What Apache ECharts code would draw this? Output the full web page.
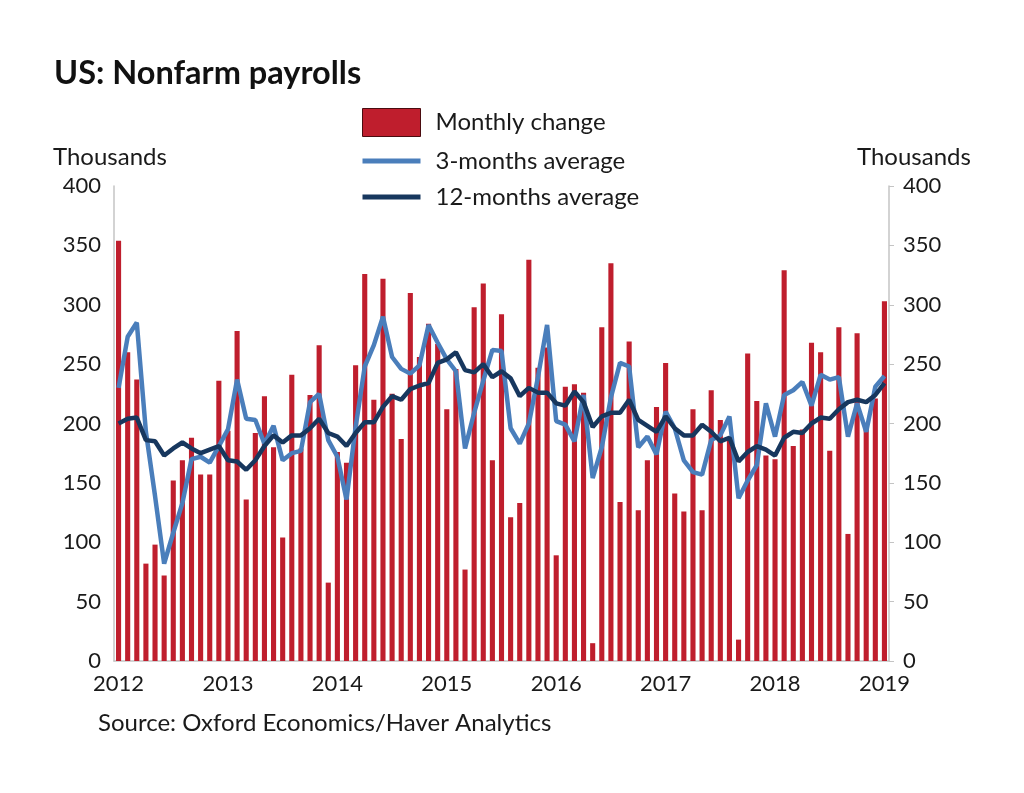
<!DOCTYPE html>
<html>
<head>
<meta charset="utf-8">
<title>US: Nonfarm payrolls</title>
<script src="https://cdn.jsdelivr.net/npm/echarts@6/dist/echarts.min.js"></script>
<style>
  html, body { margin: 0; padding: 0; background: #fff; }
  #main { width: 1024px; height: 793px; }
</style>
</head>
<body>
<div id="main"></div>
<script>
// 2012年1月 - 2019年1月, 千人
var years = ['2012', '2013', '2014', '2015', '2016', '2017', '2018', '2019'];

var monthlyChange = [354, 260, 237, 82, 98, 72, 152, 169, 188, 157, 157, 236,
    194, 278, 136, 192, 223, 180, 104, 241, 179, 224, 266, 66,
    176, 167, 249, 326, 220, 322, 225, 187, 310, 256, 284, 267,
    212, 246, 77, 298, 318, 169, 292, 121, 133, 338, 247, 264,
    89, 231, 233, 226, 15, 281, 335, 134, 269, 127, 169, 214,
    251, 141, 126, 212, 127, 228, 203, 188, 18, 259, 219, 173,
    170, 329, 181, 195, 268, 260, 177, 281, 107, 276, 196, 221, 303];

var avg3m = [230, 273, 285, 193, 139, 82, 108, 133, 170, 172, 167, 181,
    195, 237, 204, 203, 183, 198, 169, 175, 177, 218, 225, 186,
    172, 136, 197, 248, 266, 290, 256, 246, 242, 249, 283, 268,
    254, 244, 179, 209, 236, 262, 261, 196, 183, 200, 239, 283,
    202, 199, 185, 224, 154, 180, 222, 251, 248, 180, 189, 174,
    210, 196, 169, 159, 157, 186, 190, 206, 137, 152, 165, 217,
    189, 224, 228, 235, 215, 241, 237, 239, 189, 217, 193, 231, 240];

var avg12m = [200, 204, 205, 186, 185, 173, 179, 184, 179, 175, 178, 181,
    169, 168, 161, 169, 181, 190, 184, 190, 190, 196, 204, 192,
    189, 181, 192, 201, 201, 214, 223, 220, 229, 232, 234, 251,
    254, 260, 245, 243, 250, 239, 244, 238, 223, 230, 226, 226,
    217, 215, 227, 218, 197, 206, 209, 209, 220, 203, 198, 193,
    206, 196, 190, 190, 199, 193, 185, 188, 168, 176, 181, 178,
    173, 188, 193, 192, 200, 205, 204, 212, 218, 220, 218, 224, 234];

var yTicks = [0, 50, 100, 150, 200, 250, 300, 350, 400];

// 类目: 每月一个, 只在1月显示年份
var months = [];
for (var i = 0; i < monthlyChange.length; i++) {
    months.push(years[Math.floor(i / 12)] + '-' + (i % 12 + 1));
}

var font = 'Lato, "Open Sans", sans-serif';
var textColor = '#1a1a1a';
var axisGray = '#c4c4c4';
var red = '#bf1e2d';
var lightBlue = '#4a7ebb';
var navy = '#17375e';

// 图例里的线条图标 (细长矩形)
var lineIcon = 'path://M0,0h58v5h-58z';

var chart = echarts.init(document.getElementById('main'));

var option = {
    backgroundColor: '#fff',
    animation: false,
    title: {
        text: 'US: Nonfarm payrolls',
        left: 49,
        top: 52,
        textStyle: {
            fontFamily: font,
            fontSize: 32.5,
            fontWeight: 'bold',
            color: '#111'
        }
    },
    legend: {
        orient: 'vertical',
        left: 362,
        top: 108,
        padding: 0,
        itemWidth: 58,
        itemHeight: 28,
        itemGap: 12,
        symbolKeepAspect: true,
        textStyle: {
            fontFamily: font,
            fontSize: 24,
            color: textColor,
            padding: [0, 0, 0, 10]
        },
        data: [
            { name: 'Monthly change', icon: 'rect', itemStyle: { color: red, borderColor: '#4a0c10', borderWidth: 1 } },
            { name: '3-months average', icon: lineIcon, itemStyle: { color: lightBlue } },
            { name: '12-months average', icon: lineIcon, itemStyle: { color: navy } }
        ]
    },
    graphic: [
        { type: 'text', left: 53, top: 145, style: { text: 'Thousands', font: '24px ' + font, fill: textColor } },
        { type: 'text', left: 857, top: 145, style: { text: 'Thousands', font: '24px ' + font, fill: textColor } },
        { type: 'text', left: 98, top: 711, style: { text: 'Source: Oxford Economics/Haver Analytics', font: '24px ' + font, fill: textColor } }
    ],
    grid: {
        left: 114,
        right: 135,
        top: 186,
        bottom: 132
    },
    xAxis: {
        type: 'category',
        data: months,
        boundaryGap: true,
        axisLine: { show: true, lineStyle: { color: axisGray, width: 1.5 } },
        axisTick: { show: false },
        axisLabel: {
            interval: 11,
            margin: 12,
            fontFamily: font,
            fontSize: 22,
            color: textColor,
            formatter: function (v) { return v.split('-')[0]; }
        }
    },
    yAxis: [{
        type: 'value',
        min: yTicks[0],
        max: yTicks[yTicks.length - 1],
        interval: 50,
        position: 'left',
        axisLine: { show: true, lineStyle: { color: axisGray, width: 1.5 } },
        axisTick: { show: false },
        splitLine: { show: false },
        axisLabel: { margin: 13, fontFamily: font, fontSize: 22, color: textColor }
    }, {
        type: 'value',
        min: yTicks[0],
        max: yTicks[yTicks.length - 1],
        interval: 50,
        position: 'right',
        axisLine: { show: true, lineStyle: { color: axisGray, width: 1.5 } },
        axisTick: { show: true, length: 5, lineStyle: { color: axisGray } },
        splitLine: { show: false },
        axisLabel: { margin: 14, fontFamily: font, fontSize: 22, color: textColor }
    }],
    series: [{
        name: 'Monthly change',
        type: 'bar',
        data: monthlyChange,
        barWidth: '56%',
        itemStyle: { color: red }
    }, {
        name: '3-months average',
        type: 'line',
        data: avg3m,
        symbol: 'none',
        lineStyle: { color: lightBlue, width: 4.5 },
        itemStyle: { color: lightBlue }
    }, {
        name: '12-months average',
        type: 'line',
        data: avg12m,
        symbol: 'none',
        lineStyle: { color: navy, width: 4.5 },
        itemStyle: { color: navy }
    }]
};

chart.setOption(option);
</script>
</body>
</html>
